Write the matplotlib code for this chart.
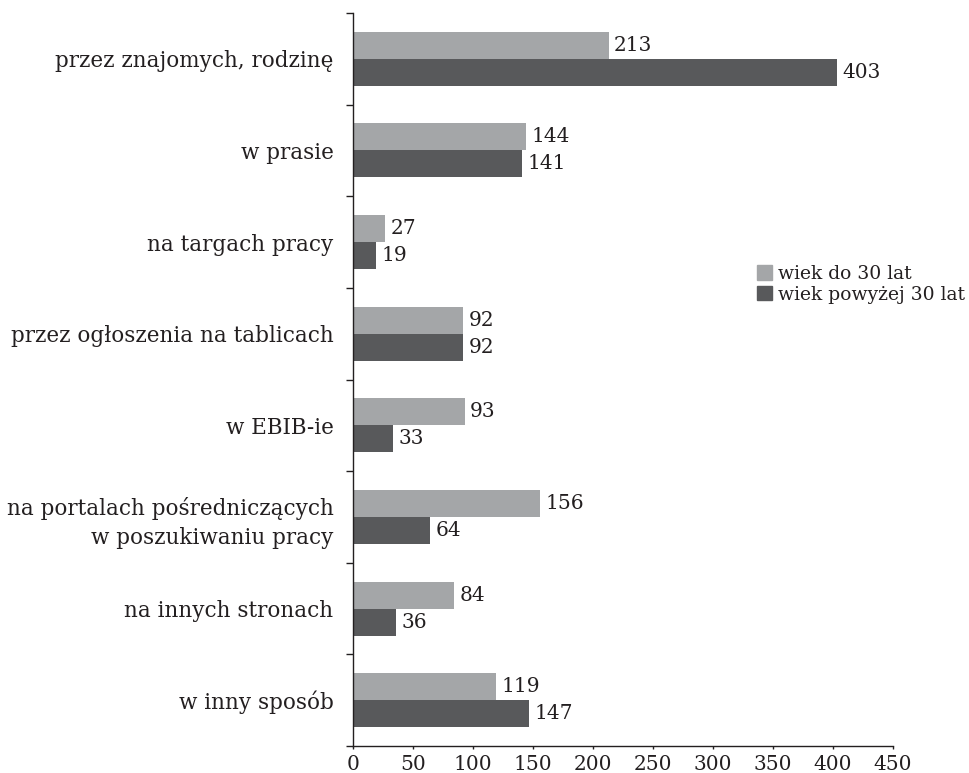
import matplotlib
matplotlib.use("Agg")
import matplotlib.pyplot as plt
import numpy as np
from matplotlib.patches import Patch

categories = ["przez znajomych, rodzinę", "w prasie", "na targach pracy",
              "przez ogłoszenia na tablicach", "w EBIB-ie",
              "na portalach pośredniczących\nw poszukiwaniu pracy",
              "na innych stronach", "w inny sposób"]
young = [213, 144, 27, 92, 93, 156, 84, 119]
older = [403, 141, 19, 92, 33, 64, 36, 147]
series_names = ["wiek do 30 lat", "wiek powyżej 30 lat"]
xticks = [0, 50, 100, 150, 200, 250, 300, 350, 400, 450]

c_light = "#a4a6a8"
c_dark = "#58595b"
txt = "#231f20"

plt.rcParams['font.family'] = ['DejaVu Serif']
fs = 14.5

fig = plt.figure(figsize=(9.69, 7.73), dpi=100)
ax = fig.add_axes([353/969, 1-746/773, (893-353)/969, (746-13)/773])

y = np.arange(len(categories))
h = 0.295
b1 = ax.barh(y - h/2, young, height=h, color=c_light)
b2 = ax.barh(y + h/2, older, height=h, color=c_dark)

for bars, vals in ((b1, young), (b2, older)):
    for r, v in zip(bars, vals):
        ax.annotate(str(v), (r.get_width(), r.get_y() + r.get_height()/2),
                    xytext=(4, 0), textcoords='offset points',
                    va='center', ha='left', fontsize=fs, color=txt)

ax.set_xlim(0, 450)
ax.set_ylim(len(categories) - 0.5, -0.5)
ax.set_xticks(xticks)
ax.set_xticklabels([str(t) for t in xticks], fontsize=fs, color=txt)
ax.set_yticks(y)
ax.set_yticklabels(categories, fontsize=15.5, color=txt, ha='right',
                   multialignment='right', linespacing=1.4)
ax.tick_params(axis='y', which='major', length=0, pad=14)
ax.set_yticks(np.arange(-0.5, len(categories)), minor=True)
ax.tick_params(axis='y', which='minor', length=5, width=1, color=txt, direction='out')
ax.tick_params(axis='x', length=2.5, width=1, color=txt, direction='out', pad=4)
for s in ('top', 'right'):
    ax.spines[s].set_visible(False)
for s in ('left', 'bottom'):
    ax.spines[s].set_color(txt)
    ax.spines[s].set_linewidth(1)

handles = [Patch(color=c_light), Patch(color=c_dark)]
fig.legend(handles, series_names, loc='upper left', bbox_to_anchor=(757/969, 1-265/773),
           frameon=False, fontsize=13.5, handlelength=0.8, handleheight=0.8,
           handletextpad=0.3, labelspacing=0.15, borderaxespad=0, borderpad=0,
           labelcolor=txt)

fig.savefig("out.png", dpi=100)
